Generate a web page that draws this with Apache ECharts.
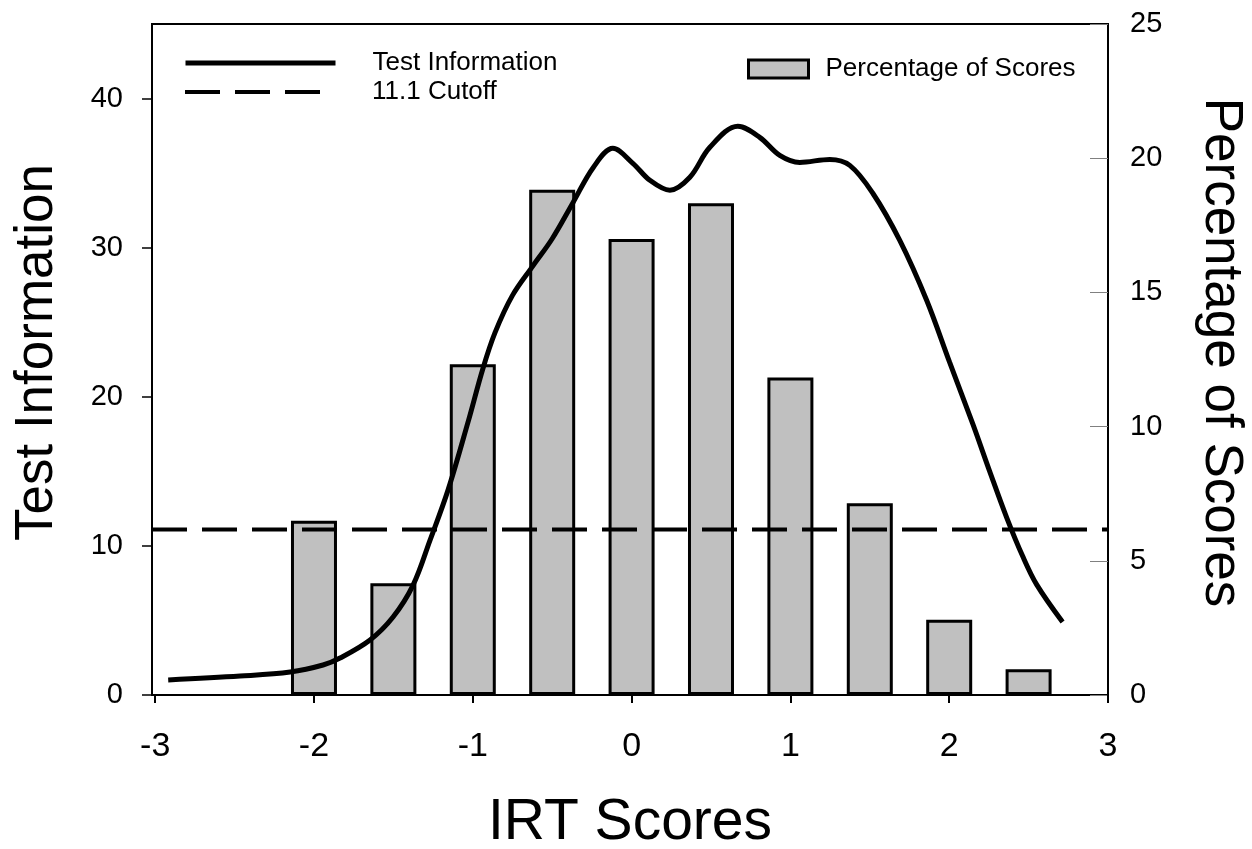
<!DOCTYPE html>
<html><head><meta charset="utf-8">
<script src="https://cdn.jsdelivr.net/npm/echarts@6/dist/echarts.min.js"></script>
<style>html,body{margin:0;padding:0;background:#fff}#c{width:1252px;height:849px}</style>
</head><body><div id="c"></div>
<script>
const barX = [-2, -1.5, -1, -0.5, 0, 0.5, 1, 1.5, 2, 2.5];
const barPct = [6.49, 4.16, 12.32, 18.82, 16.99, 18.32, 11.83, 7.14, 2.80, 0.96];
const infoX = [-2.918, -2.465, -2.150, -1.943, -1.836, -1.647, -1.502, -1.376, -1.269, -1.156, -1.030, -0.936, -0.860, -0.750, -0.620, -0.500, -0.370, -0.240, -0.118, 0.008, 0.115, 0.241, 0.367, 0.493, 0.669, 0.807, 0.933, 1.059, 1.248, 1.374, 1.519, 1.688, 1.858, 2.003, 2.148, 2.255, 2.362, 2.463, 2.551, 2.714];
const infoY = [1.01, 1.27, 1.54, 2.01, 2.48, 3.69, 5.23, 7.37, 10.39, 13.74, 18.30, 21.90, 24.30, 26.80, 28.80, 30.60, 33.00, 35.40, 36.66, 35.66, 34.52, 33.85, 34.72, 36.73, 38.14, 37.40, 36.19, 35.72, 35.92, 35.52, 33.65, 30.50, 26.47, 22.30, 18.20, 15.00, 11.90, 9.30, 7.40, 4.89];
const cutoff = 11.1;
const xTicks = [-3, -2, -1, 0, 1, 2, 3];
const leftTicks = [0, 10, 20, 30, 40];
const rightTicks = [0, 5, 10, 15, 20, 25];

const FF = 'Liberation Sans, Arial, sans-serif';
const chart = echarts.init(document.getElementById('c'), null, {renderer: 'canvas'});
const lineLegendText = {fontSize: 26, color: '#000', fontFamily: FF, lineHeight: 26, padding: [0, 0, 0, 32]};
chart.setOption({
  animation: false,
  backgroundColor: '#fff',
  grid: {left: 152, right: 144, top: 24, bottom: 154, show: true, borderColor: '#000', borderWidth: 2,
         backgroundColor: 'transparent', containLabel: false, outerBoundsMode: 'none'},
  legend: [
    {data: ['Test Information'], left: 183, top: 50, padding: 0, itemWidth: 150, itemHeight: 26, selectedMode: false,
     itemStyle: {opacity: 0, borderWidth: 0},
     lineStyle: {width: 5, color: '#000', opacity: 1},
     textStyle: lineLegendText},
    {data: ['11.1 Cutoff'], left: 183, top: 79, padding: 0, itemWidth: 150, itemHeight: 26, selectedMode: false,
     itemStyle: {opacity: 0, borderWidth: 0},
     lineStyle: {width: 4, color: '#000', type: [35, 15], opacity: 1},
     textStyle: lineLegendText},
    {data: ['Percentage of Scores'], left: 747, top: 56, padding: 0, icon: 'rect', itemWidth: 60, itemHeight: 18, selectedMode: false,
     itemStyle: {color: '#c0c0c0', borderColor: '#000', borderWidth: 3},
     textStyle: {fontSize: 26, color: '#000', fontFamily: FF, lineHeight: 26, padding: [0, 0, 0, 12]}}
  ],
  xAxis: {
    type: 'value', min: -3.02, max: 3,
    axisLine: {show: true, onZero: false, lineStyle: {color: '#000', width: 2}},
    axisTick: {show: true, customValues: xTicks, length: 8, lineStyle: {color: '#000', width: 2}},
    axisLabel: {customValues: xTicks, fontSize: 34, color: '#000', margin: 35, fontFamily: FF},
    splitLine: {show: false},
    name: 'IRT Scores', nameLocation: 'middle', nameGap: 100,
    nameTextStyle: {fontSize: 57, color: '#000', fontFamily: FF}
  },
  yAxis: [
    {
      type: 'value', position: 'left', min: 0, max: 45,
      axisLine: {show: true, onZero: false, lineStyle: {color: '#000', width: 2}},
      axisTick: {show: true, customValues: leftTicks, length: 10, lineStyle: {color: '#000', width: 1.5}},
      axisLabel: {customValues: leftTicks, fontSize: 29, color: '#000', margin: 29, fontFamily: FF},
      splitLine: {show: false},
      name: 'Test Information', nameLocation: 'middle', nameRotate: 90, nameGap: 88,
      nameTextStyle: {fontSize: 53, color: '#000', fontFamily: FF, padding: [0, 0, 0, 14]}
    },
    {
      type: 'value', position: 'right', min: 0, max: 25, interval: 5,
      axisLine: {show: true, onZero: false, lineStyle: {color: '#000', width: 2}},
      axisTick: {show: true, inside: true, length: 18, lineStyle: {color: '#808080', width: 1}},
      axisLabel: {fontSize: 29, color: '#000', margin: 22, fontFamily: FF},
      splitLine: {show: false},
      name: 'Percentage of Scores', nameLocation: 'middle', nameRotate: -90, nameGap: 86,
      nameTextStyle: {fontSize: 53, color: '#000', fontFamily: FF, padding: [0, 14, 0, 0]}
    }
  ],
  series: [
    {name: 'Percentage of Scores', type: 'bar', xAxisIndex: 0, yAxisIndex: 1,
     data: barX.map((x, i) => [x, barPct[i]]), barWidth: 46,
     itemStyle: {color: '#c0c0c0', borderColor: '#000', borderWidth: 3}, z: 2},
    {name: '11.1 Cutoff', type: 'line', xAxisIndex: 0, yAxisIndex: 0,
     data: [[-3.02, cutoff], [3, cutoff]], symbol: 'none', itemStyle: {color: '#000'},
     lineStyle: {color: '#000', width: 4, type: [35, 15]}, z: 3},
    {name: 'Test Information', type: 'line', xAxisIndex: 0, yAxisIndex: 0,
     data: infoX.map((x, i) => [x, infoY[i]]), smooth: 0.35, symbol: 'none', itemStyle: {color: '#000'},
     lineStyle: {color: '#000', width: 5, cap: 'butt'}, z: 4}
  ]
});
</script></body></html>
